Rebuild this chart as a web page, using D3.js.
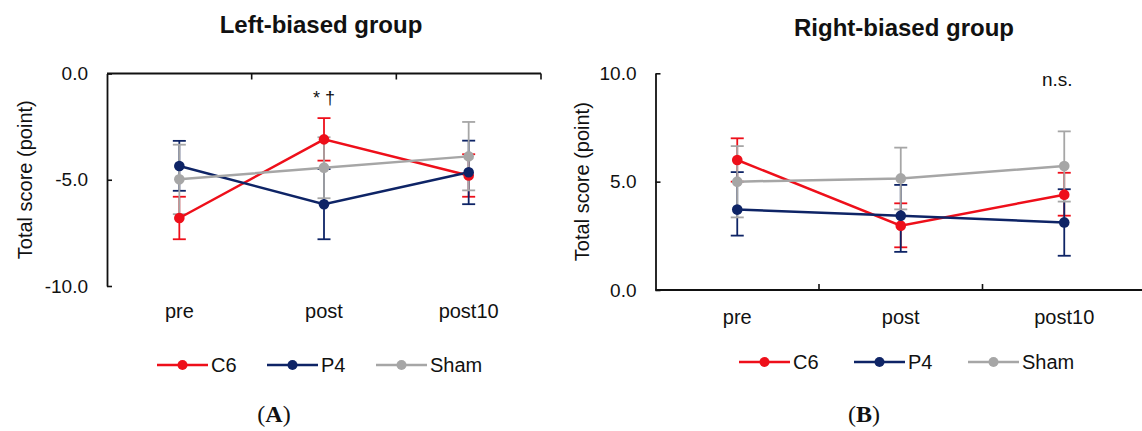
<!DOCTYPE html>
<html>
<head>
<meta charset="utf-8">
<script src="https://cdn.jsdelivr.net/npm/d3@7"></script>
<style>
  body { margin: 0; background: #fff; }
  svg { display: block; }
  text { font-family: "Liberation Sans", Arial, sans-serif; fill: #111; }
</style>
</head>
<body>
<svg id="chart" width="1142" height="431"></svg>
<script>
// categories and series names
const CATEGORIES = ["pre", "post", "post10"];
const SERIES = ["C6", "P4", "Sham"];
const COLORS = {C6: "#ee0f1a", P4: "#0e2466", Sham: "#a6a6a6"};

// left-biased group (A): means and error bar ends
const A_C6 = [-6.8, -3.1, -4.8];
const A_C6_HI = [-5.8, -2.1, -3.8];
const A_C6_LO = [-7.8, -4.1, -5.8];
const A_P4 = [-4.35, -6.15, -4.65];
const A_P4_HI = [-3.17, -4.5, -3.16];
const A_P4_LO = [-5.52, -7.8, -6.15];
const A_SHAM = [-4.98, -4.43, -3.9];
const A_SHAM_HI = [-3.35, -3.0, -2.28];
const A_SHAM_LO = [-6.62, -5.87, -5.5];
const A_TICKS = [0, -5, -10];

// right-biased group (B)
const B_C6 = [6.0, 2.97, 4.4];
const B_C6_HI = [7.0, 4.0, 5.41];
const B_C6_LO = [5.0, 1.97, 3.43];
const B_P4 = [3.71, 3.43, 3.12];
const B_P4_HI = [5.44, 4.85, 4.65];
const B_P4_LO = [2.51, 1.76, 1.58];
const B_SHAM = [5.0, 5.15, 5.72];
const B_SHAM_HI = [6.64, 6.57, 7.32];
const B_SHAM_LO = [3.35, 3.72, 4.08];
const B_TICKS = [10, 5, 0];

const SVG = d3.select("#chart");

function build_series(mean, hi, lo) {
  return CATEGORIES.map((c, i) => ({cat: c, v: mean[i], hi: hi[i], lo: lo[i]}));
}

function build_panel(opt) {
  const G = SVG.append("g");

  const X = d3.scaleBand()
    .domain(CATEGORIES)
    .range([opt.left, opt.right])
    .padding(0);

  const Y = d3.scaleLinear()
    .domain(opt.domain)
    .range([opt.bottom, opt.top]);

  // y axis, ticks inside
  G.append("g")
    .attr("transform", "translate(" + opt.left + ",0)")
    .call(d3.axisLeft(Y).tickValues(opt.ticks)
      .tickSizeInner(-5).tickSizeOuter(0).tickPadding(19))
    .call(g => g.select(".domain").attr("stroke", "#111").attr("stroke-width", 1.8))
    .call(g => g.selectAll(".tick line").attr("stroke", "#111").attr("stroke-width", 1.6))
    .call(g => g.selectAll(".tick text").attr("font-size", "19px")
      .attr("font-family", "Liberation Sans, Arial, sans-serif").attr("fill", "#111")
      .text(d => d3.format(".1f")(d).replace("−", "-")));

  // category axis line (crosses at 0) with ticks at band edges
  const y0 = Y(0);
  G.append("line")
    .attr("x1", opt.left).attr("x2", opt.right)
    .attr("y1", y0).attr("y2", y0)
    .attr("stroke", "#111").attr("stroke-width", 1.8);

  G.selectAll(".cat-tick")
    .data(CATEGORIES)
    .enter()
    .append("line")
    .attr("x1", d => X(d) + X.bandwidth())
    .attr("x2", d => X(d) + X.bandwidth())
    .attr("y1", y0)
    .attr("y2", y0 + opt.tickDir * 6)
    .attr("stroke", "#111").attr("stroke-width", 1.6);

  // category labels under the plot
  G.selectAll(".cat-label")
    .data(CATEGORIES)
    .enter()
    .append("text")
    .attr("x", d => X(d) + X.bandwidth() / 2)
    .attr("y", opt.catY)
    .attr("text-anchor", "middle")
    .attr("font-size", "20px")
    .text(d => d);

  // y axis title
  G.append("text")
    .attr("transform", "translate(" + opt.ylabX + "," + ((opt.top + opt.bottom) / 2) + ") rotate(-90)")
    .attr("text-anchor", "middle")
    .attr("font-size", "20px")
    .text("Total score (point)");

  // title
  G.append("text")
    .attr("x", opt.titleX)
    .attr("y", opt.titleY)
    .attr("text-anchor", "middle")
    .attr("font-size", "24px")
    .attr("font-weight", "bold")
    .text(opt.title);

  const series = SERIES.map((s, i) => ({name: s, pts: opt.data[i]}));
  const cx = d => X(d.cat) + X.bandwidth() / 2;

  // error bars
  series.forEach(s => {
    const eb = G.append("g");
    eb.selectAll("line.v")
      .data(s.pts).enter().append("line")
      .attr("x1", cx).attr("x2", cx)
      .attr("y1", d => Y(d.hi)).attr("y2", d => Y(d.lo))
      .attr("stroke", COLORS[s.name]).attr("stroke-width", 1.8);
    eb.selectAll("line.hi")
      .data(s.pts).enter().append("line")
      .attr("x1", d => cx(d) - 6.5).attr("x2", d => cx(d) + 6.5)
      .attr("y1", d => Y(d.hi)).attr("y2", d => Y(d.hi))
      .attr("stroke", COLORS[s.name]).attr("stroke-width", 1.8);
    eb.selectAll("line.lo")
      .data(s.pts).enter().append("line")
      .attr("x1", d => cx(d) - 6.5).attr("x2", d => cx(d) + 6.5)
      .attr("y1", d => Y(d.lo)).attr("y2", d => Y(d.lo))
      .attr("stroke", COLORS[s.name]).attr("stroke-width", 1.8);
  });

  // lines
  const line = d3.line().x(cx).y(d => Y(d.v));
  series.forEach(s => {
    G.append("path")
      .attr("d", line(s.pts))
      .attr("fill", "none")
      .attr("stroke", COLORS[s.name])
      .attr("stroke-width", 2.5);
  });

  // markers
  series.forEach(s => {
    G.selectAll(null)
      .data(s.pts).enter().append("circle")
      .attr("cx", cx).attr("cy", d => Y(d.v))
      .attr("r", 5.3)
      .attr("fill", COLORS[s.name]);
  });

  // annotation
  G.append("text")
    .attr("x", X(opt.note.cat) + X.bandwidth() / 2 + opt.note.dx)
    .attr("y", opt.note.y)
    .attr("text-anchor", "middle")
    .attr("font-size", opt.note.size)
    .text(opt.note.text);

  // legend
  SERIES.forEach((s, i) => {
    const lx = opt.legendX[i];
    const ly = opt.legendY;
    G.append("line")
      .attr("x1", lx).attr("x2", lx + 51)
      .attr("y1", ly).attr("y2", ly)
      .attr("stroke", COLORS[s]).attr("stroke-width", 2.5);
    G.append("circle")
      .attr("cx", lx + 25.5).attr("cy", ly).attr("r", 5)
      .attr("fill", COLORS[s]);
    G.append("text")
      .attr("x", lx + 54).attr("y", ly + 7)
      .attr("font-size", "20px")
      .text(s);
  });

  // panel letter
  const pl = G.append("text")
    .attr("x", opt.letterX).attr("y", 422)
    .attr("text-anchor", "middle")
    .attr("font-size", "24px")
    .style("font-family", "'Liberation Serif', 'Times New Roman', serif");
  pl.append("tspan").text("(");
  pl.append("tspan").attr("font-weight", "bold").text(opt.letter);
  pl.append("tspan").text(")");
}

build_panel({
  left: 107, right: 541, top: 73.5, bottom: 286,
  domain: [-10, 0], ticks: A_TICKS, tickDir: 1,
  catY: 318, ylabX: 32,
  title: "Left-biased group", titleX: 321, titleY: 33,
  data: [build_series(A_C6, A_C6_HI, A_C6_LO),
         build_series(A_P4, A_P4_HI, A_P4_LO),
         build_series(A_SHAM, A_SHAM_HI, A_SHAM_LO)],
  note: {cat: "post", dx: 0, y: 104, text: "* †", size: "18px"},
  legendX: [157, 267, 376], legendY: 365,
  letter: "A", letterX: 274
});

build_panel({
  left: 655.5, right: 1146, top: 73.3, bottom: 290,
  domain: [0, 10], ticks: B_TICKS, tickDir: -1,
  catY: 324, ylabX: 589,
  title: "Right-biased group", titleX: 904, titleY: 36,
  data: [build_series(B_C6, B_C6_HI, B_C6_LO),
         build_series(B_P4, B_P4_HI, B_P4_LO),
         build_series(B_SHAM, B_SHAM_HI, B_SHAM_LO)],
  note: {cat: "post10", dx: -7, y: 86, text: "n.s.", size: "19px"},
  legendX: [739, 854, 968], legendY: 362,
  letter: "B", letterX: 864
});
</script>
</body>
</html>
